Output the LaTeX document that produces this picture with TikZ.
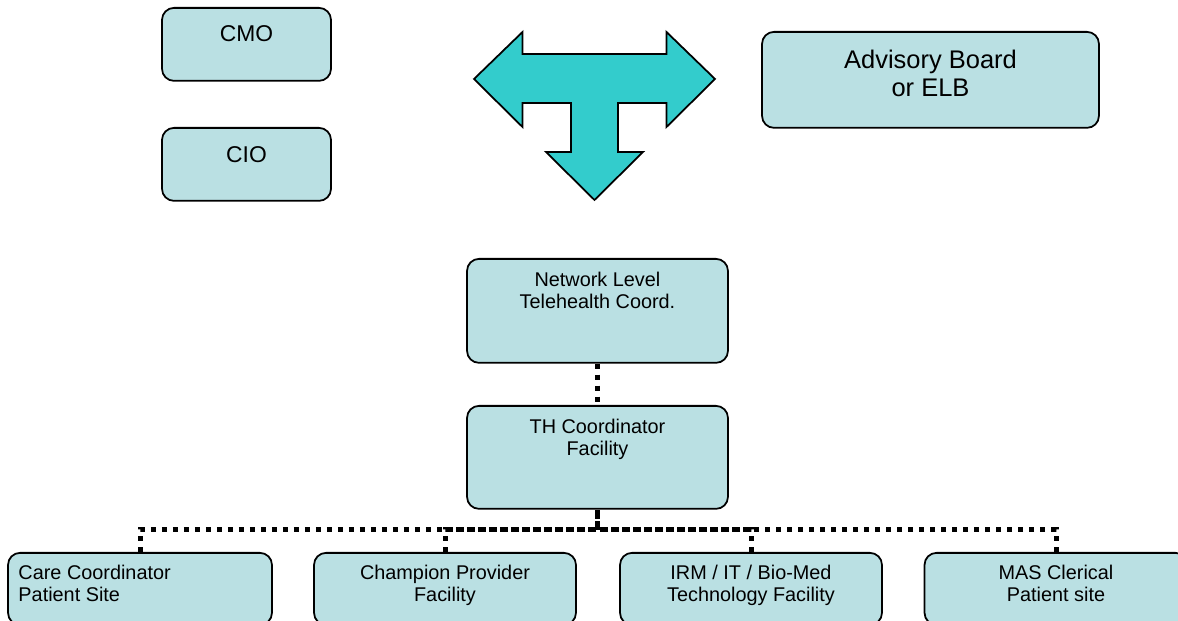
\documentclass[tikz,border=0pt]{standalone}
\usepackage{fontspec}
\setmainfont{Liberation Sans}

\definecolor{boxfill}{RGB}{186,224,227}
\definecolor{arrowfill}{RGB}{51,204,204}

\begin{document}
\begin{tikzpicture}[x=0.02cm, y=-0.02cm,
  box/.style={draw, line width=1pt, rounded corners=0.24cm, fill=boxfill, anchor=north, inner sep=0pt},
  boxtext/.style={anchor=north, align=center, inner sep=0pt, font=\fontsize{11.3}{12.6}\selectfont},
  link/.style={line width=0.1cm, dash pattern=on 0.1cm off 0.12cm}]

  \clip (0,0) rectangle (1178,621);

  % top row
  \node[box, minimum width=3.38cm, minimum height=1.46cm,
        label={[boxtext, yshift=-0.36cm, font=\fontsize{13}{15}\selectfont]north:CMO}] (cmo) at (246.5,7) {};
  \node[box, minimum width=3.38cm, minimum height=1.46cm,
        label={[boxtext, yshift=-0.38cm, font=\fontsize{13}{15}\selectfont]north:CIO}] (cio) at (246.5,127) {};
  \node[box, minimum width=6.74cm, minimum height=1.92cm,
        label={[boxtext, yshift=-0.38cm, font=\fontsize{14.5}{15.8}\selectfont]north:Advisory Board\\or ELB}] (adv) at (930.5,31) {};

  % the T-shaped three-way arrow
  \filldraw[fill=arrowfill, line width=1pt, line join=miter]
    (474,79) -- (522.5,32) -- (522.5,54) -- (666.5,54) -- (666.5,32) -- (715,79)
    -- (666.5,127) -- (666.5,103) -- (618,103) -- (618,152) -- (643,152) -- (594.5,200)
    -- (546,152) -- (571,152) -- (571,103) -- (522.5,103) -- (522.5,127) -- cycle;

  % coordinators
  \node[box, minimum width=5.22cm, minimum height=2.08cm,
        label={[boxtext, yshift=-0.28cm]north:Network Level\\Telehealth Coord.}] (net) at (597.5,258) {};
  \node[box, minimum width=5.22cm, minimum height=2.06cm,
        label={[boxtext, yshift=-0.28cm]north:TH Coordinator\\Facility}] (th) at (597.5,405) {};

  % bottom row
  \node[box, minimum width=5.28cm, minimum height=1.44cm,
        label={[boxtext, anchor=north west, align=left, xshift=0.22cm, yshift=-0.25cm]north west:Care Coordinator\\Patient Site}] (care) at (140,552) {};
  \node[box, minimum width=5.24cm, minimum height=1.44cm,
        label={[boxtext, yshift=-0.25cm]north:Champion Provider\\Facility}] (champ) at (445,552) {};
  \node[box, minimum width=5.24cm, minimum height=1.44cm,
        label={[boxtext, yshift=-0.25cm]north:IRM / IT / Bio-Med\\Technology Facility}] (irm) at (751,552) {};
  \node[box, minimum width=5.26cm, minimum height=1.44cm,
        label={[boxtext, yshift=-0.25cm]north:MAS Clerical\\Patient site}] (mas) at (1056,552) {};

  % dotted reporting lines
  \coordinate (bus) at (597.5,530);
  \draw[link] (net) -- (th);
  \foreach \n in {care,champ,irm,mas}
    \draw[link] (\n.north) |- (bus) -- (th.south);

\end{tikzpicture}
\end{document}
